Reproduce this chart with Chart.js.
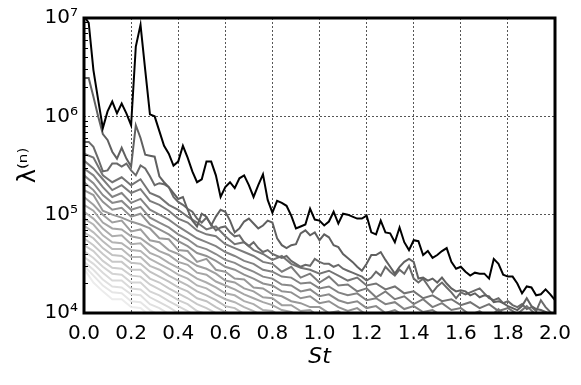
<!DOCTYPE html>
<html>
<head>
<meta charset="utf-8">
<script src="https://cdn.jsdelivr.net/npm/chart.js@4.4.1/dist/chart.umd.min.js"></script>
<style>
  html, body { margin: 0; padding: 0; background: #fff; }
  #wrap { width: 581px; height: 385px; }
</style>
</head>
<body>
<div id="wrap"><canvas id="lambdaChart" width="581" height="385"></canvas></div>
<script>
// Strouhal getal langs de x-as (stap 0.02)
var st = [0, 0.02, 0.04, 0.06, 0.08, 0.1, 0.12, 0.14, 0.16, 0.18,
  0.2, 0.22, 0.24, 0.26, 0.28, 0.3, 0.32, 0.34, 0.36, 0.38,
  0.4, 0.42, 0.44, 0.46, 0.48, 0.5, 0.52, 0.54, 0.56, 0.58,
  0.6, 0.62, 0.64, 0.66, 0.68, 0.7, 0.72, 0.74, 0.76, 0.78,
  0.8, 0.82, 0.84, 0.86, 0.88, 0.9, 0.92, 0.94, 0.96, 0.98,
  1.0, 1.02, 1.04, 1.06, 1.08, 1.1, 1.12, 1.14, 1.16, 1.18,
  1.2, 1.22, 1.24, 1.26, 1.28, 1.3, 1.32, 1.34, 1.36, 1.38,
  1.4, 1.42, 1.44, 1.46, 1.48, 1.5, 1.52, 1.54, 1.56, 1.58,
  1.6, 1.62, 1.64, 1.66, 1.68, 1.7, 1.72, 1.74, 1.76, 1.78,
  1.8, 1.82, 1.84, 1.86, 1.88, 1.9, 1.92, 1.94, 1.96, 1.98, 2.0];

// log10 van lambda^(n), afgelezen uit de figuur
// de drie bovenste lijnen: een punt per 0.02
var lam1 = [7.02, 6.95, 6.47, 6.17, 5.88, 6.05, 6.15, 6.03, 6.13, 6.03,
  5.91, 6.71, 6.93, 6.47, 6.02, 6.00, 5.85, 5.70, 5.62, 5.50,
  5.54, 5.70, 5.58, 5.44, 5.33, 5.36, 5.54, 5.54, 5.40, 5.18,
  5.28, 5.33, 5.27, 5.37, 5.40, 5.30, 5.18, 5.30, 5.41, 5.15,
  5.02, 5.14, 5.12, 5.09, 4.99, 4.86, 4.88, 4.90, 5.06, 4.95,
  4.94, 4.89, 4.93, 5.03, 4.91, 5.01, 5.00, 4.98, 4.96, 4.96,
  4.99, 4.82, 4.80, 4.94, 4.82, 4.81, 4.72, 4.87, 4.72, 4.64,
  4.74, 4.73, 4.59, 4.63, 4.56, 4.59, 4.63, 4.66, 4.52, 4.45,
  4.47, 4.42, 4.38, 4.41, 4.40, 4.40, 4.35, 4.55, 4.50, 4.39,
  4.37, 4.37, 4.30, 4.20, 4.27, 4.26, 4.18, 4.19, 4.24, 4.19, 4.13];
var lam2 = [6.39, 6.39, 6.20, 6.00, 5.82, 5.76, 5.64, 5.57, 5.68, 5.57,
  5.49, 5.91, 5.78, 5.61, 5.60, 5.59, 5.39, 5.33, 5.28, 5.22,
  5.16, 5.18, 5.05, 4.94, 4.88, 5.01, 4.98, 4.89, 4.98, 5.05,
  5.03, 4.94, 4.82, 4.86, 4.93, 4.96, 4.91, 4.86, 4.89, 4.94,
  4.92, 4.76, 4.69, 4.66, 4.69, 4.70, 4.81, 4.84, 4.79, 4.82,
  4.74, 4.80, 4.77, 4.69, 4.67, 4.60, 4.56, 4.52, 4.47, 4.43,
  4.50, 4.59, 4.59, 4.62, 4.54, 4.47, 4.40, 4.47, 4.52, 4.55,
  4.52, 4.35, 4.36, 4.33, 4.35, 4.31, 4.36, 4.30, 4.25, 4.22,
  4.23, 4.22, 4.18, 4.20, 4.16, 4.18, 4.17, 4.11, 4.12, 4.10,
  4.07, 4.05, 4.03, 4.07, 4.15, 4.07, 4.04, 4.03, 4.01, 3.99, 3.98];
var lam3 = [5.74, 5.74, 5.69, 5.57, 5.44, 5.45, 5.52, 5.52, 5.49, 5.52,
  5.45, 5.40, 5.50, 5.47, 5.39, 5.30, 5.32, 5.31, 5.28, 5.18,
  5.13, 5.10, 5.06, 5.03, 4.96, 4.92, 4.97, 4.90, 4.84, 4.87,
  4.88, 4.82, 4.78, 4.79, 4.72, 4.68, 4.72, 4.66, 4.62, 4.64,
  4.60, 4.58, 4.56, 4.58, 4.53, 4.50, 4.47, 4.49, 4.48, 4.55,
  4.52, 4.50, 4.50, 4.47, 4.49, 4.45, 4.43, 4.41, 4.39, 4.37,
  4.33, 4.36, 4.42, 4.38, 4.47, 4.42, 4.38, 4.44, 4.40, 4.48,
  4.35, 4.31, 4.35, 4.28, 4.21, 4.27, 4.31, 4.26, 4.21, 4.15,
  4.21, 4.19, 4.21, 4.23, 4.25, 4.20, 4.15, 4.13, 4.15, 4.10,
  4.12, 4.08, 4.06, 4.09, 4.04, 4.06, 4.02, 4.13, 4.06, 4.01, 3.98];

// lichtere lijnen: een punt per 0.04 (st[0], st[2], st[4], ...), tot ze onder 10^4 zakken
var lam4 = [5.62, 5.58, 5.40, 5.33, 5.38, 5.30, 5.36, 5.22, 5.18, 5.10,
  5.05, 4.98, 4.92, 4.85, 4.88, 4.78, 4.70, 4.72, 4.64, 4.60,
  4.54, 4.58, 4.50, 4.46, 4.44, 4.40, 4.43, 4.38, 4.33, 4.36,
  4.28, 4.30, 4.24, 4.27, 4.20, 4.22, 4.15, 4.18, 4.12, 4.14,
  4.08, 4.11, 4.05, 4.09, 4.02, 4.05, 3.99, 4.07, 3.98, 3.96, 3.94];
var lam5 = [5.55, 5.47, 5.36, 5.25, 5.30, 5.22, 5.26, 5.14, 5.10, 5.04,
  4.96, 4.92, 4.84, 4.80, 4.78, 4.70, 4.66, 4.62, 4.58, 4.52,
  4.50, 4.42, 4.47, 4.36, 4.40, 4.31, 4.37, 4.28, 4.29, 4.22,
  4.25, 4.16, 4.22, 4.14, 4.17, 4.09, 4.14, 4.06, 4.10, 4.03,
  4.05, 3.98, 4.02, 3.95, 4.04, 3.94, 3.96, 3.90];
var lam6 = [5.47, 5.40, 5.28, 5.18, 5.22, 5.12, 5.16, 5.05, 5.00, 4.95,
  4.88, 4.82, 4.76, 4.72, 4.68, 4.62, 4.58, 4.53, 4.50, 4.44,
  4.42, 4.37, 4.36, 4.30, 4.31, 4.25, 4.27, 4.21, 4.18, 4.20,
  4.13, 4.15, 4.09, 4.11, 4.04, 4.07, 4.01, 4.03, 3.97, 4.00,
  3.94, 3.96, 3.90];
var lam7 = [5.40, 5.32, 5.20, 5.12, 5.14, 5.05, 5.08, 4.97, 4.92, 4.87,
  4.80, 4.75, 4.68, 4.65, 4.60, 4.54, 4.51, 4.46, 4.42, 4.37,
  4.35, 4.29, 4.28, 4.22, 4.24, 4.17, 4.19, 4.13, 4.10, 4.12,
  4.05, 4.07, 4.00, 4.03, 3.97, 3.99, 3.93, 3.95, 3.89];
var lam8 = [5.33, 5.25, 5.13, 5.05, 5.07, 4.98, 5.01, 4.90, 4.85, 4.80,
  4.73, 4.68, 4.61, 4.58, 4.53, 4.47, 4.44, 4.39, 4.35, 4.30,
  4.28, 4.22, 4.21, 4.15, 4.17, 4.10, 4.12, 4.06, 4.02, 4.05,
  3.98, 4.00, 3.93, 3.96, 3.90];
var lam9 = [5.25, 5.20, 5.04, 5.00, 4.97, 4.93, 4.90, 4.86, 4.76, 4.75,
  4.64, 4.63, 4.52, 4.55, 4.44, 4.42, 4.35, 4.34, 4.26, 4.25,
  4.19, 4.17, 4.12, 4.10, 4.06, 4.06, 4.00, 4.02, 3.94, 3.97, 3.90];
var lam10 = [5.18, 5.10, 5.00, 4.92, 4.94, 4.83, 4.85, 4.74, 4.72, 4.64,
  4.60, 4.54, 4.48, 4.45, 4.40, 4.33, 4.31, 4.25, 4.22, 4.16,
  4.15, 4.08, 4.08, 4.02, 4.03, 3.96, 3.98, 3.91];
var lam11 = [5.10, 5.04, 4.92, 4.86, 4.85, 4.78, 4.76, 4.69, 4.63, 4.59,
  4.52, 4.49, 4.41, 4.39, 4.32, 4.28, 4.24, 4.19, 4.15, 4.11,
  4.08, 4.03, 4.01, 3.96, 3.97, 3.90];
var lam12 = [5.03, 4.96, 4.86, 4.78, 4.79, 4.70, 4.71, 4.61, 4.57, 4.51,
  4.46, 4.41, 4.35, 4.31, 4.26, 4.20, 4.18, 4.12, 4.09, 4.03,
  4.02, 3.96, 3.95, 3.89];
var lam13 = [4.96, 4.90, 4.79, 4.72, 4.71, 4.64, 4.63, 4.55, 4.50, 4.45,
  4.39, 4.35, 4.28, 4.25, 4.19, 4.14, 4.11, 4.06, 4.02, 3.97, 3.95, 3.90];
var lam14 = [4.89, 4.82, 4.73, 4.65, 4.65, 4.57, 4.57, 4.48, 4.44, 4.38,
  4.33, 4.28, 4.22, 4.18, 4.13, 4.07, 4.05, 3.99, 3.96, 3.90];
var lam15 = [4.82, 4.76, 4.66, 4.59, 4.58, 4.51, 4.50, 4.42, 4.37, 4.32,
  4.26, 4.22, 4.15, 4.12, 4.06, 4.01, 3.98, 3.93, 3.89];
var lam16 = [4.76, 4.69, 4.60, 4.52, 4.52, 4.44, 4.44, 4.35, 4.31, 4.25,
  4.20, 4.15, 4.09, 4.05, 4.00, 3.94, 3.92, 3.87];
var lam17 = [4.69, 4.63, 4.53, 4.46, 4.45, 4.38, 4.37, 4.29, 4.24, 4.19,
  4.13, 4.09, 4.02, 3.99, 3.93, 3.88];
var lam18 = [4.63, 4.56, 4.47, 4.40, 4.39, 4.31, 4.31, 4.22, 4.18, 4.12,
  4.07, 4.02, 3.96, 3.92, 3.87];
var lam19 = [4.57, 4.50, 4.41, 4.33, 4.33, 4.25, 4.24, 4.16, 4.11, 4.06,
  4.00, 3.96, 3.90];
var lam20 = [4.52, 4.44, 4.34, 4.27, 4.26, 4.19, 4.18, 4.09, 4.05, 3.99, 3.94, 3.89];
var lam21 = [4.48, 4.38, 4.28, 4.21, 4.20, 4.12, 4.11, 4.03, 3.98, 3.93, 3.88];
var lam22 = [4.45, 4.31, 4.22, 4.14, 4.14, 4.06, 4.05, 3.97, 3.92, 3.86];

var yTicks = [1e4, 1e5, 1e6, 1e7];
var yTickLabels = ['10\u2074', '10\u2075', '10\u2076', '10\u2077'];

// grijstinten per lijn, van zwart naar bijna wit
var grays = [0, 96, 106, 116, 124, 131, 138, 145, 152, 159, 166, 173,
  180, 187, 194, 200, 206, 212, 218, 224, 230, 236];

var fijn = [lam1, lam2, lam3];
var grof = [lam4, lam5, lam6, lam7, lam8, lam9, lam10, lam11, lam12, lam13,
  lam14, lam15, lam16, lam17, lam18, lam19, lam20, lam21, lam22];

function maakPunten(logs, stap) {
  return logs.map(function (v, i) {
    return { x: st[i * stap], y: Math.pow(10, v) };
  });
}

var datasets = [];
fijn.forEach(function (s) { datasets.push({ data: maakPunten(s, 1) }); });
grof.forEach(function (s) { datasets.push({ data: maakPunten(s, 2) }); });
datasets.forEach(function (ds, k) {
  var g = grays[k];
  ds.borderColor = 'rgb(' + g + ',' + g + ',' + g + ')';
  ds.borderWidth = 2;
  ds.pointRadius = 0;
  ds.fill = false;
  ds.tension = 0;
});

// dikke rand om het plotvlak en kleine tickjes op de log-as
var randPlugin = {
  id: 'rand',
  afterDatasetsDraw: function (chart) {
    var ctx = chart.ctx;
    var a = chart.chartArea;
    var y = chart.scales.y;
    ctx.save();
    ctx.strokeStyle = '#000';
    ctx.lineWidth = 1;
    for (var d = 4; d < 7; d++) {
      for (var m = 2; m < 10; m++) {
        var py = Math.round(y.getPixelForValue(m * Math.pow(10, d))) + 0.5;
        ctx.beginPath();
        ctx.moveTo(a.left, py);
        ctx.lineTo(a.left + 4, py);
        ctx.stroke();
      }
    }
    ctx.lineWidth = 3;
    ctx.strokeRect(a.left, a.top, a.right - a.left, a.bottom - a.top);
    ctx.restore();
  }
};

var ctx = document.getElementById('lambdaChart').getContext('2d');
var chart = new Chart(ctx, {
  type: 'line',
  data: { datasets: datasets },
  plugins: [randPlugin],
  options: {
    responsive: false,
    animation: false,
    devicePixelRatio: 1,
    layout: { padding: { left: 0, right: 26, top: 18, bottom: 0 } },
    plugins: { legend: { display: false }, tooltip: { enabled: false } },
    scales: {
      x: {
        type: 'linear',
        min: 0,
        max: 2,
        afterFit: function (s) { s.height = 72; },
        ticks: {
          stepSize: 0.2,
          padding: 9,
          color: '#000',
          font: { family: 'DejaVu Sans', size: 20 },
          callback: function (v) { return v.toFixed(1); }
        },
        grid: { color: '#555', lineWidth: 1, drawTicks: false },
        border: { display: false, dash: [2, 2] },
        title: {
          display: true,
          text: 'St',
          color: '#000',
          font: { family: 'DejaVu Sans', size: 22, style: 'italic' },
          padding: { top: 0, bottom: 15 }
        }
      },
      y: {
        type: 'logarithmic',
        min: 1e4,
        max: 1e7,
        afterFit: function (s) { s.width = 84; },
        afterBuildTicks: function (s) {
          s.ticks = yTicks.map(function (v) { return { value: v }; });
        },
        ticks: {
          padding: 6,
          color: '#000',
          font: { family: 'DejaVu Sans', size: 20 },
          callback: function (v) { return yTickLabels[yTicks.indexOf(v)]; }
        },
        grid: { color: '#555', lineWidth: 1, drawTicks: false },
        border: { display: false, dash: [2, 2] },
        title: {
          display: true,
          text: '\u03bb\u207d\u207f\u207e',
          color: '#000',
          font: { family: 'DejaVu Sans', size: 24 },
          padding: { top: 14, bottom: 0 }
        }
      }
    }
  }
});
</script>
</body>
</html>
